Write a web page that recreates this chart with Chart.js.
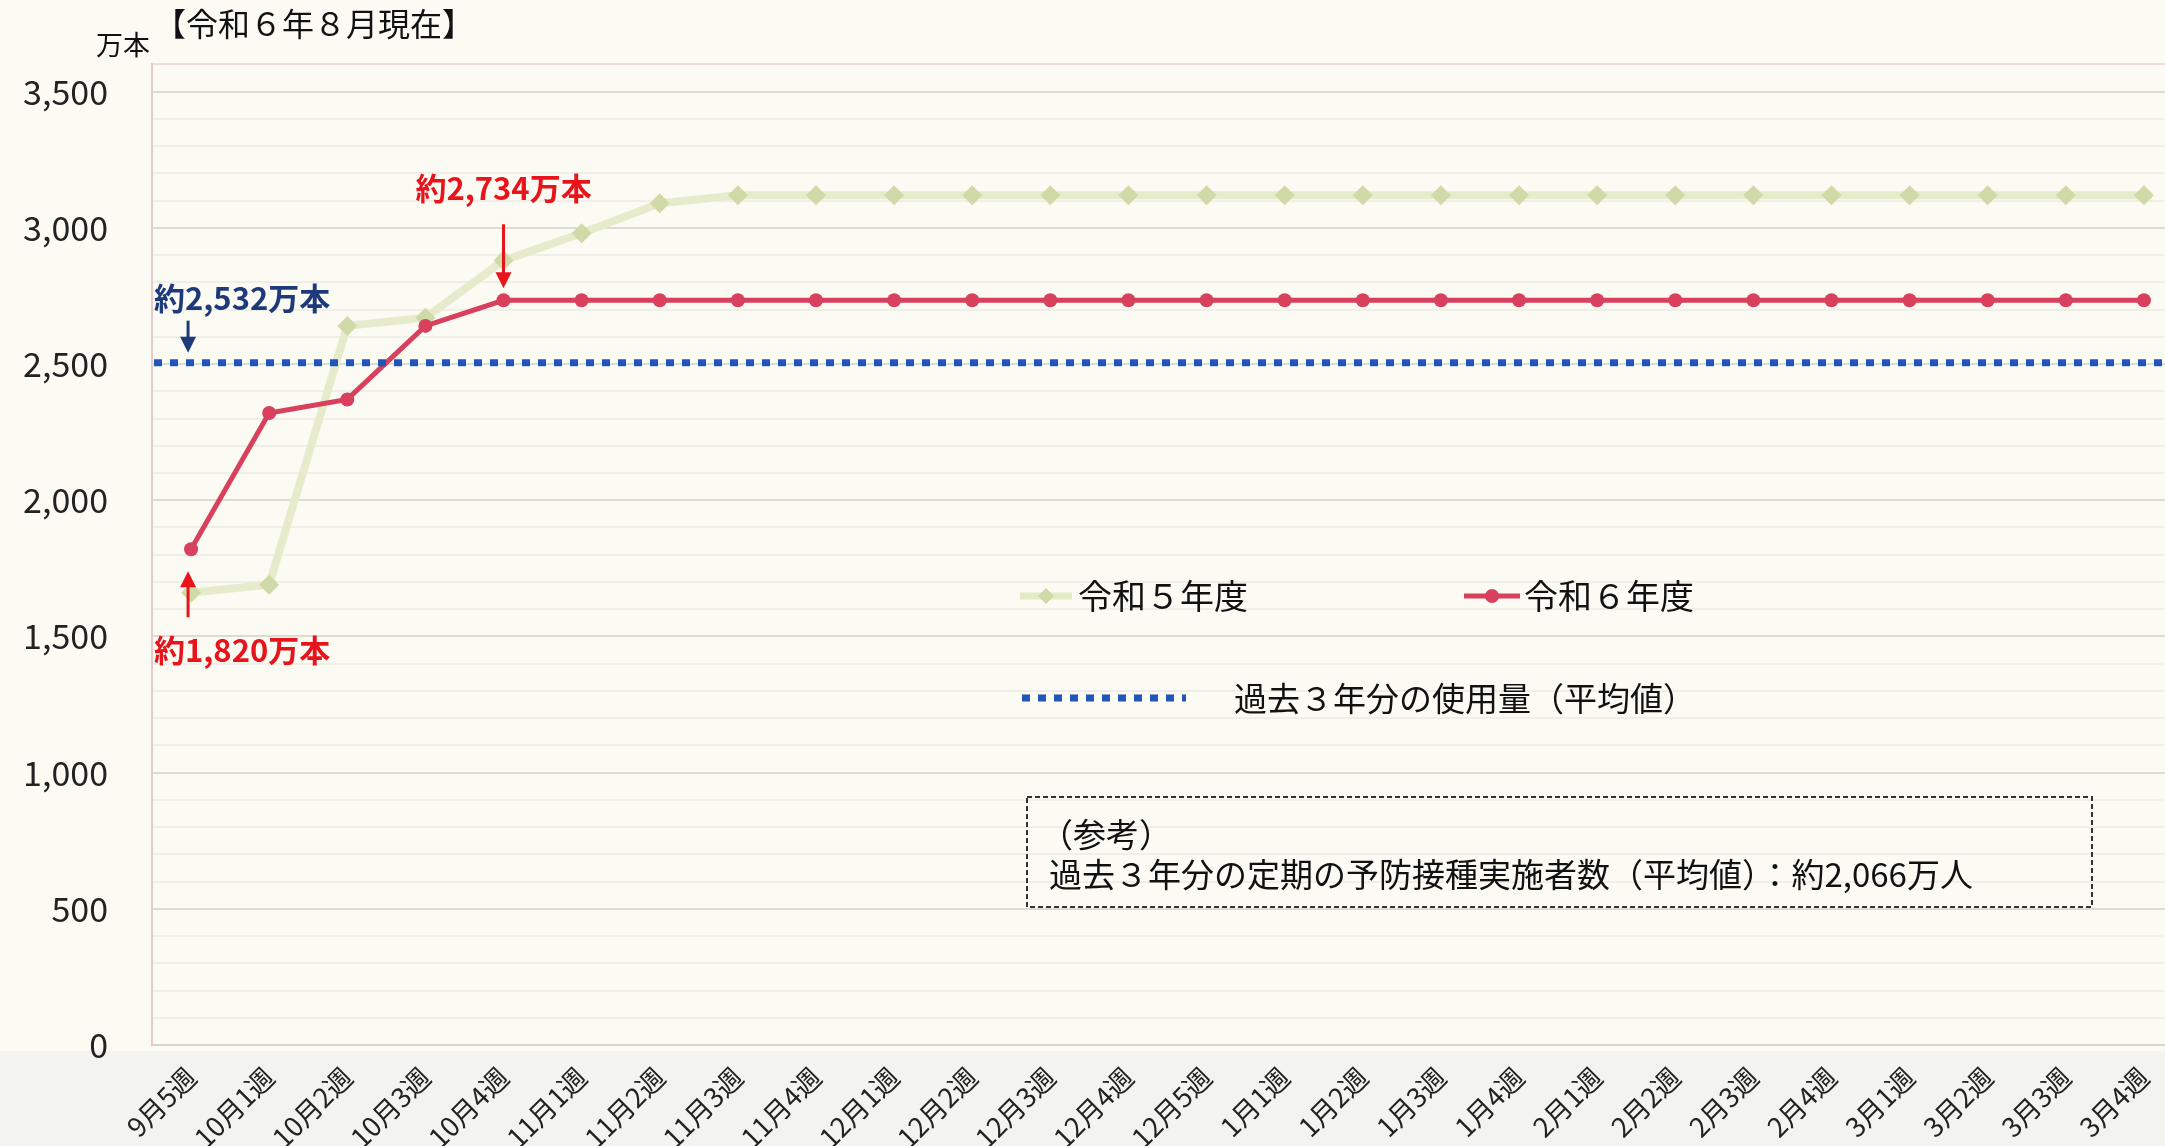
<!DOCTYPE html>
<html>
<head>
<meta charset="utf-8">
<script src="https://cdn.jsdelivr.net/npm/chart.js@4.4.1/dist/chart.umd.min.js"></script>
<style>
  html, body { margin: 0; padding: 0; overflow: hidden; background: #fbfbf3; }
</style>
</head>
<body>
<canvas id="myChart" width="2193" height="1146"></canvas>
<script>
// weeks on the x axis
const weeks = ['9月5週', '10月1週', '10月2週', '10月3週', '10月4週',
    '11月1週', '11月2週', '11月3週', '11月4週',
    '12月1週', '12月2週', '12月3週', '12月4週', '12月5週',
    '1月1週', '1月2週', '1月3週', '1月4週',
    '2月1週', '2月2週', '2月3週', '2月4週',
    '3月1週', '3月2週', '3月3週', '3月4週']

// 令和5年度 (万本)
const reiwa5 = [1660, 1690, 2640, 2670, 2880, 2980, 3090, 3120, 3120,
    3120, 3120, 3120, 3120, 3120, 3120, 3120, 3120, 3120,
    3120, 3120, 3120, 3120, 3120, 3120, 3120, 3120]

// 令和6年度 (万本)
const reiwa6 = [1820, 2320, 2370, 2640, 2734, 2734, 2734, 2734, 2734,
    2734, 2734, 2734, 2734, 2734, 2734, 2734, 2734, 2734,
    2734, 2734, 2734, 2734, 2734, 2734, 2734, 2734]

// 過去3年分の使用量（平均値）
const pastAverage = 2505

const yLabelValues = [0, 500, 1000, 1500, 2000, 2500, 3000, 3500]

const FONT = '"Noto Sans CJK JP", "Noto Sans", sans-serif'
const RED = '#d8405e'
const BLUE = '#1f56b8'

function drawArrow(ctx, x, y1, y2, color) {
    // line from y1 to y2, head at y2
    const dir = y2 > y1 ? 1 : -1
    ctx.save()
    ctx.strokeStyle = color
    ctx.fillStyle = color
    ctx.lineWidth = 3
    ctx.beginPath()
    ctx.moveTo(x, y1)
    ctx.lineTo(x, y2 - dir * 14)
    ctx.stroke()
    ctx.beginPath()
    ctx.moveTo(x - 8, y2 - dir * 16)
    ctx.lineTo(x + 8, y2 - dir * 16)
    ctx.lineTo(x, y2)
    ctx.closePath()
    ctx.fill()
    ctx.restore()
}

const extras = {
    id: 'extras',
    beforeDraw(chart) {
        const ctx = chart.ctx
        ctx.save()
        ctx.fillStyle = '#fbfbf3'
        ctx.fillRect(0, 0, chart.width, chart.height)
        ctx.fillStyle = '#f3f3ef'
        ctx.fillRect(0, chart.chartArea.bottom + 6, chart.width, chart.height)
        ctx.restore()
    },
    afterDatasetsDraw(chart) {
        // dotted average line across the whole plot
        const ctx = chart.ctx
        const area = chart.chartArea
        const y = chart.scales.y.getPixelForValue(pastAverage)
        ctx.save()
        ctx.strokeStyle = BLUE
        ctx.lineWidth = 7
        ctx.setLineDash([8, 8])
        ctx.beginPath()
        ctx.moveTo(area.left + 2, y)
        ctx.lineTo(area.right, y)
        ctx.stroke()
        ctx.restore()
    },
    afterDraw(chart) {
        const ctx = chart.ctx
        const xs = chart.scales.x
        const ys = chart.scales.y
        const area = chart.chartArea
        ctx.save()
        ctx.textBaseline = 'middle'

        // title and unit
        ctx.fillStyle = '#111'
        ctx.font = '32px ' + FONT
        ctx.textAlign = 'left'
        ctx.fillText('【令和６年８月現在】', 154, 24)
        ctx.font = '27px ' + FONT
        ctx.fillText('万本', 96, 45)

        // callouts
        ctx.font = 'bold 31px ' + FONT
        const p4x = xs.getPixelForValue(4)
        const p4y = ys.getPixelForValue(reiwa6[4])
        ctx.fillStyle = '#e8141c'
        ctx.textAlign = 'center'
        ctx.fillText('約2,734万本', p4x, p4y - 112)
        drawArrow(ctx, p4x, p4y - 76, p4y - 12, '#e8141c')

        const p0x = xs.getPixelForValue(0)
        const p0y = ys.getPixelForValue(reiwa6[0])
        ctx.textAlign = 'left'
        ctx.fillText('約1,820万本', area.left + 2, p0y + 101)
        drawArrow(ctx, p0x - 3, p0y + 68, p0y + 22, '#e8141c')

        const avgY = ys.getPixelForValue(pastAverage)
        ctx.fillStyle = '#1e3a7a'
        ctx.fillText('約2,532万本', area.left + 2, avgY - 64)
        drawArrow(ctx, p0x - 3, avgY - 42, avgY - 10, '#1e3a7a')

        // legend
        ctx.font = '34px ' + FONT
        ctx.fillStyle = '#111'
        const ly1 = 596
        ctx.strokeStyle = '#e3eac6'
        ctx.lineWidth = 7
        ctx.beginPath(); ctx.moveTo(1020, ly1); ctx.lineTo(1072, ly1); ctx.stroke()
        ctx.fillStyle = '#cfdaa8'
        ctx.beginPath()
        ctx.moveTo(1046, ly1 - 8); ctx.lineTo(1054, ly1); ctx.lineTo(1046, ly1 + 8); ctx.lineTo(1038, ly1)
        ctx.closePath(); ctx.fill()
        ctx.fillStyle = '#111'
        ctx.fillText('令和５年度', 1078, ly1)

        ctx.strokeStyle = RED
        ctx.lineWidth = 5
        ctx.beginPath(); ctx.moveTo(1464, ly1); ctx.lineTo(1520, ly1); ctx.stroke()
        ctx.fillStyle = RED
        ctx.beginPath(); ctx.arc(1492, ly1, 7, 0, Math.PI * 2); ctx.fill()
        ctx.fillStyle = '#111'
        ctx.fillText('令和６年度', 1524, ly1)

        const ly2 = 698
        ctx.strokeStyle = BLUE
        ctx.lineWidth = 7
        ctx.setLineDash([8, 8])
        ctx.beginPath(); ctx.moveTo(1022, ly2); ctx.lineTo(1186, ly2); ctx.stroke()
        ctx.setLineDash([])
        ctx.font = '33px ' + FONT
        ctx.fillText('過去３年分の使用量（平均値）', 1234, ly2)

        // reference box
        ctx.strokeStyle = '#333'
        ctx.lineWidth = 2
        ctx.setLineDash([5, 3])
        ctx.strokeRect(1027, 797, 1065, 110)
        ctx.setLineDash([])
        ctx.font = '33px ' + FONT
        ctx.fillText('（参考）', 1040, 834)
        ctx.fillText('過去３年分の定期の予防接種実施者数（平均値）：約2,066万人', 1049, 874)
        ctx.restore()
    }
}

function drawChart() {
    const ctx = document.getElementById('myChart').getContext('2d')

    const myChart = new Chart(ctx, {
        type: 'line',
        data: {
            labels: weeks,
            datasets: [{
                label: '令和６年度',
                data: reiwa6,
                borderColor: RED,
                backgroundColor: RED,
                borderWidth: 5,
                pointStyle: 'circle',
                pointRadius: 7,
                pointBorderWidth: 0,
                tension: 0
            }, {
                label: '令和５年度',
                data: reiwa5,
                borderColor: '#e5ebcb',
                backgroundColor: '#cfdaa8',
                borderWidth: 8,
                pointStyle: 'rectRot',
                pointRadius: 10,
                pointBorderWidth: 0,
                tension: 0
            }]
        },
        options: {
            responsive: false,
            animation: false,
            layout: { padding: { top: 61, left: 0, right: 0, bottom: 0 } },
            plugins: {
                legend: { display: false },
                tooltip: { enabled: false }
            },
            scales: {
                x: {
                    offset: true,
                    grid: { display: false },
                    border: { display: false },
                    ticks: {
                        maxRotation: 45,
                        minRotation: 45,
                        autoSkip: false,
                        padding: 8,
                        color: '#222',
                        font: { size: 27, family: FONT }
                    },
                    afterFit: scale => { scale.height = 101 }
                },
                y: {
                    min: 0,
                    max: 3600,
                    border: { color: '#e6caca', width: 2 },
                    grid: {
                        drawTicks: false,
                        lineWidth: 2,
                        color: c => {
                            const v = c.tick.value
                            if (v === 3600) return '#efdcdc'
                            if (v === 0) return '#d6d6cf'
                            return v % 500 === 0 ? '#dcdcd5' : '#efefe8'
                        }
                    },
                    ticks: {
                        stepSize: 100,
                        autoSkip: false,
                        padding: 44,
                        color: '#222',
                        font: { size: 34, family: FONT },
                        callback: v => yLabelValues.includes(v) ? v.toLocaleString('en-US') : ''
                    },
                    afterFit: scale => { scale.width = 152 }
                }
            }
        },
        plugins: [extras]
    })
}

window.onload = () => {
    drawChart()
}
</script>
</body>
</html>
